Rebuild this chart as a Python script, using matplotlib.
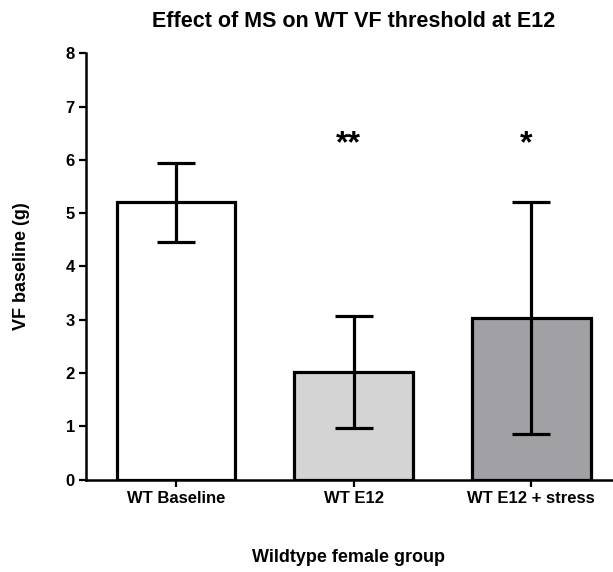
import numpy as np
import matplotlib.pyplot as plt

plt.rcParams['font.family'] = ['Liberation Sans', 'DejaVu Sans']

groups = ['WT Baseline', 'WT E12', 'WT E12 + stress']
means = [5.2, 2.02, 3.03]
errors = [0.75, 1.05, 2.17]
stars = ['', '**', '*']
colors = ['#ffffff', '#d4d4d4', '#a1a0a5']

W, H = 613, 572
fig = plt.figure(figsize=(W / 100, H / 100), dpi=100)
ax = fig.add_axes([86 / W, 1 - 479.5 / H, (612 - 86) / W, (479.5 - 53.3) / H])

x = np.arange(len(groups))
ax.bar(x, means, width=0.67, color=colors, edgecolor='black', linewidth=2.3, zorder=2)
ax.errorbar(x, means, yerr=errors, fmt='none', ecolor='black', elinewidth=2.3,
            capsize=14, capthick=2.3, zorder=3)

# significance markers above the treated groups
for xi, s in zip(x, stars):
    if s:
        ax.text(xi - 0.03, 6.3, s, ha='center', va='center', fontsize=23, fontweight='bold')

ax.set_xlim(-0.507, 2.456)
ax.set_ylim(0, 8)
ax.set_xticks(x)
ax.set_xticklabels(groups, fontsize=12, fontweight='bold')
ax.set_yticks(range(0, 9))
ax.set_yticklabels([str(i) for i in range(0, 9)], fontsize=12, fontweight='bold')
ax.tick_params(axis='both', direction='out', length=5, width=1.6, pad=3)

for side in ['top', 'right']:
    ax.spines[side].set_visible(False)
for side in ['left', 'bottom']:
    ax.spines[side].set_linewidth(1.8)

ax.set_ylabel('VF baseline (g)', fontsize=13, fontweight='bold')
ax.yaxis.set_label_coords(-(86 - 21.5) / (612 - 86), 0.5)
ax.set_xlabel('Wildtype female group', fontsize=13, fontweight='bold')
ax.xaxis.set_label_coords(0.5, -(558 - 479.5) / (479.5 - 53.3))
ax.xaxis.label.set_va('center')
ax.yaxis.label.set_va('center')

fig.text(353.5 / W, 1 - 26.7 / H, 'Effect of MS on WT VF threshold at E12', ha='center', va='baseline',
         fontsize=15.5, fontweight='bold')

fig.savefig('out.png', dpi=100)
